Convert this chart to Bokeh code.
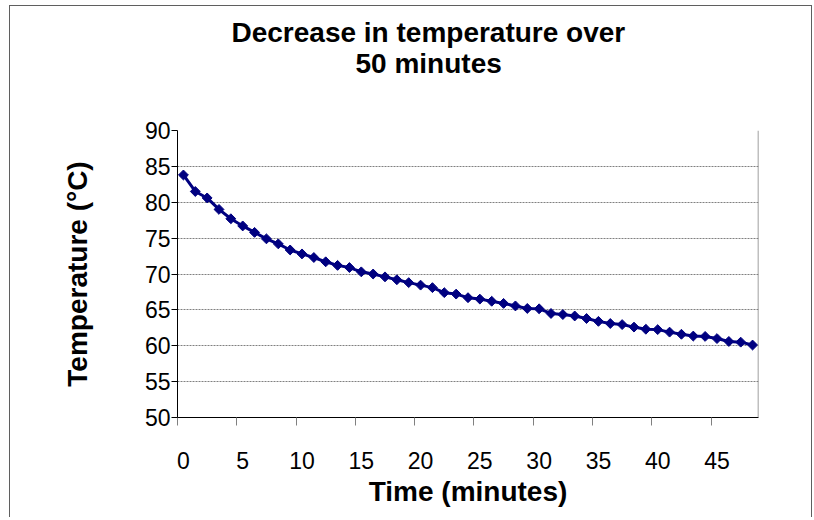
import numpy as np
from bokeh.plotting import figure
from bokeh.models import Range1d, FixedTicker, Span, Title
from bokeh.embed import file_html
from bokeh.resources import INLINE

# ---- data ----
minutes = list(range(0, 49))
temps = [83.8, 81.5, 80.6, 79.0, 77.7, 76.7, 75.8, 74.9, 74.2, 73.35,
         72.8, 72.3, 71.7, 71.2, 70.9, 70.3, 70.0, 69.6, 69.2, 68.8,
         68.45, 68.1, 67.4, 67.2, 66.7, 66.5, 66.2, 65.9, 65.55, 65.2,
         65.15, 64.5, 64.35, 64.15, 63.8, 63.4, 63.1, 62.95, 62.6, 62.3,
         62.25, 61.9, 61.6, 61.35, 61.3, 61.0, 60.6, 60.5, 60.1]
x_tick_labels = [0, 5, 10, 15, 20, 25, 30, 35, 40, 45]
y_ticks = [50, 55, 60, 65, 70, 75, 80, 85, 90]
title_line1 = "Decrease in temperature over"
title_line2 = "50 minutes"
x_title = "Time (minutes)"
y_title = "Temperature (°C)"

FONT = "Liberation Sans"
NAVY = "#000080"

p = figure(width=803, height=512, output_backend="svg", toolbar_location=None,
           title=None,
           x_range=Range1d(-0.5, len(minutes) - 0.5), y_range=Range1d(50, 90),
           min_border_left=167, min_border_right=55, min_border_top=124,
           min_border_bottom=101, background_fill_color="white",
           border_fill_color="white", outline_line_color=None)
p.styles = {"margin-left": "9px", "margin-top": "5px",
            "border-left": "1px solid #5f5f5f", "border-top": "1px solid #5f5f5f",
            "border-right": "1px solid #5f5f5f"}

# x axis: labels on category centres, tick marks on category boundaries
p.xaxis.ticker = FixedTicker(ticks=x_tick_labels,
                             minor_ticks=[t - 0.5 for t in x_tick_labels])
p.xaxis.major_tick_out = 0
p.xaxis.major_tick_in = 0
p.xaxis.minor_tick_out = 8
p.xaxis.minor_tick_in = 0
p.xaxis.minor_tick_line_color = "#808080"
p.xaxis.axis_line_color = "black"
p.xaxis.axis_line_width = 1
p.xaxis.major_label_standoff = 26
p.xaxis.major_label_text_font = FONT
p.xaxis.major_label_text_font_size = "23px"
p.xaxis.major_label_text_color = "black"
p.xaxis.axis_label = x_title
p.xaxis.axis_label_text_font = FONT
p.xaxis.axis_label_text_font_size = "28px"
p.xaxis.axis_label_text_font_style = "bold"
p.xaxis.axis_label_text_color = "black"
p.xaxis.axis_label_standoff = 4

p.yaxis.ticker = FixedTicker(ticks=y_ticks, minor_ticks=[])
p.yaxis.major_tick_out = 6
p.yaxis.major_tick_in = 0
p.yaxis.major_tick_line_color = "black"
p.yaxis.axis_line_color = "black"
p.yaxis.axis_line_width = 1
p.yaxis.major_label_standoff = 1
p.yaxis.major_label_text_font = FONT
p.yaxis.major_label_text_font_size = "23px"
p.yaxis.major_label_text_color = "black"
p.yaxis.axis_label = y_title
p.yaxis.axis_label_text_font = FONT
p.yaxis.axis_label_text_font_size = "28px"
p.yaxis.axis_label_text_font_style = "bold"
p.yaxis.axis_label_text_color = "black"
p.yaxis.axis_label_standoff = 49

p.xgrid.grid_line_color = None
p.ygrid.grid_line_color = "#808080"
p.ygrid.grid_line_dash = "2 1"
p.ygrid.grid_line_width = 1

p.add_layout(Span(location=len(minutes) - 0.5, dimension="height",
                  line_color="#808080", line_width=1.5))

p.line(minutes, temps, line_color=NAVY, line_width=3)
p.scatter(minutes, temps, marker="square", angle=np.pi / 4, size=7,
          fill_color=NAVY, line_color=NAVY, line_width=1)

# two-line chart title (titles added later stack further from the plot)
p.add_layout(Title(text=" ", align="left", text_font=FONT,
                   text_font_size="27px", standoff=22), "above")
p.add_layout(Title(text=title_line2, align="left", offset=178,
                   text_font=FONT, text_font_size="28px", text_font_style="bold",
                   text_color="black", standoff=-4), "above")
p.add_layout(Title(text=title_line1, align="left", offset=54,
                   text_font=FONT, text_font_size="28px", text_font_style="bold",
                   text_color="black", standoff=0), "above")

open("out.html", "w").write(file_html(p, INLINE))
